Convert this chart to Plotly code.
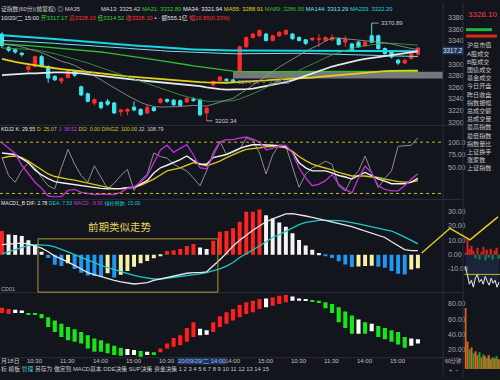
import plotly.graph_objects as go

W, H = 500, 380
FONT = "Liberation Sans, Noto Sans CJK SC, sans-serif"
BG = "#13151c"

idx = list(range(64))

# ---------------- main pane: 60-min candles ----------------
opens = [3352, 3329, 3325, 3319, 3291, 3296, 3313, 3296, 3279, 3271, 3277, 3288, 3261, 3249, 3233, 3234,
         3236, 3233, 3218, 3219, 3226, 3222, 3216, 3225, 3234, 3239, 3238, 3237, 3235, 3240, 3238, 3216,
         3264, 3272, 3274, 3273, 3287, 3330, 3346, 3349, 3352, 3341, 3349, 3352, 3352, 3346, 3342, 3342,
         3343, 3341, 3342, 3344, 3338, 3335, 3338, 3332, 3349, 3349, 3327, 3321, 3307, 3302, 3310, 3317.17]
highs = [3355, 3331, 3327, 3321, 3300, 3315, 3316, 3298, 3281, 3277, 3290, 3290, 3263, 3251, 3241, 3236,
         3240, 3235, 3223, 3224, 3236, 3224, 3230, 3227, 3242, 3241, 3240, 3239, 3243, 3243, 3241, 3227,
         3272, 3280, 3276, 3275, 3332, 3348, 3354, 3360, 3354, 3351, 3357, 3360, 3354, 3348, 3343, 3346,
         3352, 3348, 3352, 3346, 3349, 3337, 3340, 3340, 3370.89, 3351, 3329, 3323, 3309, 3309, 3320, 3328.10]
lows = [3328, 3321, 3318, 3313, 3286, 3294, 3294, 3268, 3271, 3266, 3276, 3278, 3245, 3234, 3229, 3222,
        3228, 3214, 3211, 3212, 3219, 3211, 3214, 3218, 3232, 3233, 3228, 3227, 3233, 3235, 3210, 3202.34,
        3262, 3270, 3270, 3268, 3285, 3328, 3344, 3347, 3339, 3339, 3347, 3350, 3342, 3339, 3333, 3340,
        3330, 3339, 3340, 3332, 3330, 3322, 3328, 3330, 3336, 3325, 3316, 3310, 3299, 3300, 3308, 3314.52]
closes = [3332, 3324, 3321, 3316.5, 3296, 3313, 3296, 3276, 3273, 3275, 3288, 3281, 3247, 3236, 3239, 3225,
          3231, 3216, 3221, 3222, 3221, 3213, 3225, 3220, 3240, 3236, 3230, 3229, 3241, 3237.5, 3213, 3224,
          3270, 3278, 3272, 3270, 3330, 3346, 3352, 3358, 3341, 3349, 3355, 3358, 3344, 3341, 3336, 3345,
          3344, 3346, 3346, 3334, 3343, 3324, 3330, 3338, 3338, 3327, 3318, 3312.5, 3302, 3307, 3318, 3328.10]

ma13 = [3335, 3334, 3332, 3330, 3326, 3323, 3320, 3315, 3310, 3305, 3302, 3298, 3292, 3286, 3280, 3273,
        3266, 3259, 3252, 3246, 3240, 3234, 3230, 3227, 3226, 3226, 3226, 3227, 3228, 3229, 3228, 3228,
        3231, 3235, 3238, 3241, 3248, 3256, 3264, 3272, 3280, 3288, 3295, 3302, 3309, 3316, 3322, 3328,
        3333, 3340, 3345, 3345, 3344, 3343, 3342, 3341, 3340, 3339, 3337, 3335, 3332, 3329, 3327, 3325.42]
ma21 = [3328, 3327.5, 3327, 3326.5, 3326, 3325, 3323, 3321, 3318, 3315, 3312, 3309, 3306, 3302, 3298, 3294,
        3290, 3286, 3282, 3278, 3274, 3270, 3266, 3262, 3258, 3254, 3250, 3247, 3244, 3241, 3238, 3236,
        3236, 3236, 3236.5, 3237, 3240, 3244, 3249, 3254, 3260, 3265, 3271, 3277, 3283, 3289, 3295, 3300,
        3306, 3311, 3316, 3320, 3324, 3327, 3330, 3332, 3334, 3335, 3336, 3336, 3335.5, 3334.5, 3333.5, 3332.80]
ma34 = [3281, 3282, 3283, 3283.5, 3284, 3284, 3285, 3285.5, 3286, 3286, 3286, 3285, 3284, 3282, 3281, 3280,
        3278.5, 3277, 3275.5, 3274, 3273, 3272, 3271, 3270, 3268, 3267, 3266, 3265, 3264, 3263, 3262, 3260,
        3258, 3257, 3256, 3256, 3256, 3257, 3258, 3260, 3262, 3264, 3266, 3269, 3272, 3276, 3280, 3284.5,
        3289, 3292.5, 3296, 3299, 3302, 3304.5, 3307, 3309, 3311, 3312.5, 3314, 3315.5, 3317, 3318.5, 3320, 3321.94]
ma55 = [3309, 3306, 3304, 3302, 3300, 3298, 3296, 3294.5, 3293, 3291.5, 3290, 3289, 3288, 3286.5, 3285.5, 3284,
        3283, 3282, 3280.5, 3279, 3278, 3277, 3276, 3275, 3274, 3274, 3273, 3272, 3271, 3270, 3269, 3268.5,
        3268, 3268, 3268, 3268.5, 3269, 3269.5, 3270, 3271, 3272, 3273, 3273.5, 3274, 3275, 3275.5, 3276, 3277,
        3278, 3279, 3280, 3281.5, 3283, 3284, 3285, 3286, 3287, 3287.5, 3288, 3288.5, 3289, 3289, 3289, 3288.91]
ma89 = [3335, 3334.5, 3334, 3333, 3332, 3331, 3330, 3329, 3328.5, 3328, 3327, 3326, 3325, 3323.5, 3322, 3321,
        3319.5, 3318, 3316.5, 3315, 3313, 3311.5, 3310, 3308, 3306, 3304.5, 3302.5, 3300.5, 3299, 3297, 3295.5, 3294,
        3292, 3290.5, 3289, 3288, 3287.5, 3287, 3287, 3287, 3287, 3287.2, 3287.4, 3287.6, 3287.8, 3288, 3288, 3288,
        3287.9, 3287.8, 3287.7, 3287.6, 3287.5, 3287.4, 3287.3, 3287.2, 3287.1, 3287.1, 3287, 3287, 3287, 3287, 3286.95, 3286.95]
ma144 = [3341, 3340.5, 3340, 3339, 3338.5, 3338, 3337, 3336.5, 3336, 3335, 3334.5, 3334, 3333, 3332, 3331.5, 3330.5,
         3330, 3329, 3328, 3327.5, 3326.5, 3326, 3325, 3324, 3323.5, 3322.5, 3322, 3321, 3320.5, 3320, 3319.5, 3319,
         3318.5, 3318.3, 3318, 3318, 3318, 3318.2, 3318.4, 3318.6, 3318.8, 3319, 3319, 3319, 3319, 3318.8, 3318.6, 3318.4,
         3318.2, 3318, 3317.7, 3317.3, 3317, 3316.6, 3316.2, 3315.8, 3315.4, 3315, 3314.6, 3314.3, 3314, 3313.7, 3313.5, 3313.29]
ma233 = [3350, 3349, 3348.5, 3347.5, 3347, 3346, 3345, 3344.5, 3343.5, 3342.5, 3342, 3341, 3340, 3339, 3338, 3337.5,
         3336.5, 3335.5, 3334.5, 3333.5, 3332.5, 3331.5, 3331, 3330, 3329, 3328.5, 3327.5, 3327, 3326, 3325.5, 3325, 3324.5,
         3324, 3323.8, 3323.6, 3323.5, 3323.5, 3323.5, 3323.6, 3323.7, 3323.8, 3323.8, 3323.9, 3324, 3324, 3324, 3323.9, 3323.8,
         3323.7, 3323.6, 3323.5, 3323.3, 3323.1, 3323, 3322.9, 3322.8, 3322.7, 3322.6, 3322.5, 3322.4, 3322.3, 3322.3, 3322.2, 3322.2]

# 3320 is hidden behind the cross-hair price box in the reference
price_ticks = [3200, 3220, 3240, 3260, 3280, 3300, 3340, 3360, 3380]
band_low, band_high = 3275.5, 3287.0          # grey highlight band
band_start = 35
cross_price = "3317.2"
turnover = "555.1亿"
change_txt = "10.85(0.33%)"

# ---------------- KDJ pane ----------------
kdj_k = [79, 77, 76, 68, 60, 46, 36, 29, 23, 21, 19, 18, 16, 14, 11, 10, 9, 9, 10, 11, 12, 18, 25, 40, 50, 55,
         60, 66, 73, 64, 57, 57, 70, 73, 76, 82, 88, 92, 95, 95, 95, 94, 93, 91, 80, 60, 50, 44, 44, 44, 40, 35,
         32, 28, 35, 41, 35, 28, 24, 19, 19, 19, 22, 29.55]
kdj_d = [69, 72, 73, 70, 63, 55, 46, 38, 33, 30, 28, 26, 23, 20, 17, 14, 11, 9, 9, 10, 12, 16, 22, 28, 36, 44,
         47, 50, 55, 60, 57, 54, 58, 63, 70, 76, 81, 86, 87, 89, 91, 92, 91, 89, 82, 72, 64, 57, 53, 50, 46, 41,
         37, 34, 34, 34, 32, 31, 28, 25, 23, 22, 22, 25.07]
kdj_j = [99, 88, 78, 55, 38, 22, 10, -5, -7, -6, 6, 8, 2, 0, -2, -1, -2, -2, 2, 10, 13, 22, 35, 60, 85, 94,
         80, 88, 95, 75, 50, 48, 73, 100, 105, 105, 108, 110, 106, 100, 85, 88, 93, 94, 79, 50, 30, 15, 18, 25,
         37, 18, 8, 1, 30, 53, 40, 15, 8, 5, 5, 15, 28, 38.52]
kdj_j2 = [70, 35, 22, 45, 60, 50, 31, 15, 9, 50, 86, 57, 35, 22, 54, 30, 9, 20, 35, 47, 6, 25, 38, 79, 72, 69,
          57, 50, 44, 30, 15, 44, 80, 102, 76, 80, 86, 108, 104, 79, 38, 75, 95, 92, 50, 12, 38, 50, 55, 63, 57,
          15, 5, 30, 44, 73, 40, 11, 30, 44, 92, 93, 94, 108.79]
di2_level, dingz_level = 0.0, 100.0
kdj_ticks = [50, 75, 100]
kdj_ticktext = ["50.00", "75.00", "100.0"]

# ---------------- MACD pane ----------------
macd = [16.5, 14, 13.8, 13, 10, 7, 2, -2.3, -7, -8, -6, -10, -12.6, -14.5, -15, -15.5, -13, -16, -14, -11.5,
        -8.5, -6, -4.5, -2.5, -0.5, 2.5, 3, 4, 6, 7.5, 5, 4, 9.7, 16, 16.5, 18.4, 23, 30, 30, 31.5, 27.6, 25.3,
        22.5, 19.5, 15, 10.3, 6.4, 3.4, 1.1, -0.5, -2.3, -4.6, -6.9, -8.6, -8.2, -8.0, -7.8, -8.5, -9.2, -11.5,
        -13.3, -13.8, -10.3, -9.50]
dif = [7, 7.5, 8, 8, 7.5, 6, 4.5, 2, -1, -3, -5, -7.5, -10, -12.5, -14, -15.5, -17, -18, -19, -20, -20.5, -20,
       -19.5, -18, -17, -16, -15, -14, -13, -12.6, -12.6, -12, -8, -3.5, 1, 6, 10, 13.8, 17, 20, 23, 25, 27, 28.5,
       28.7, 28, 27, 26, 25, 24, 23, 22, 21, 19.5, 18, 16.5, 15.5, 14, 12, 9, 6, 3.5, 2.8, 2.78]
dea = [0.5, 2, 4, 5.5, 6.5, 7, 7, 6.5, 5.5, 4, 2, 0, -2, -4, -5.5, -7.5, -9, -10.5, -12, -13.5, -14.5, -15.5,
       -16.5, -17, -17, -16.5, -16, -15.5, -15, -14, -13.5, -12.5, -11.5, -10, -8, -5.5, -2, 0.5, 3, 6, 9, 12, 14,
       16.5, 19, 21, 22.5, 23.5, 24, 24, 24, 23.8, 23.2, 22.5, 21.5, 20.5, 19.5, 18.5, 17.5, 16.5, 14.5, 12.5, 10, 7.53]
green_count = 15.00
macd_ticks = [-10, 0, 10, 20, 30]
macd_ticktext = ["-10.00", "0.00", "10.00", "20.00", "30.00"]

# ---------------- CD01 pane (floating bars) ----------------
cd_top = [75, 73.4, 72.5, 71.3, 68.2, 68.2, 66.9, 62.6, 58.2, 53.9, 49.5, 46.5, 43, 38.7, 34.3, 32.1, 27.8, 24.7,
          22.1, 20.4, 19.1, 17.8, 16.9, 16.1, 21.3, 27.8, 35.2, 38.7, 48.2, 56, 47.4, 45.2, 56, 63.9, 69.1, 73.4,
          78.6, 82.1, 84.3, 86.5, 87.3, 88.6, 90.8, 91.7, 89.9, 87.3, 85.6, 84.3, 84.3, 82.1, 79.9, 75.6, 70, 64.7,
          59.5, 56, 53.9, 50.8, 48.2, 45.2, 43, 36.5, 34.3, 33.4]
cd_bottom = [68, 66.9, 68.2, 68.2, 65.6, 65.6, 61.3, 49.5, 43, 36.5, 32.1, 30, 27.8, 21.3, 16.9, 16.9, 14.8, 12.6,
             11.7, 12.6, 12.6, 10.4, 12.6, 12.6, 16.1, 21.3, 23.4, 25.6, 30, 36.5, 38.7, 39.5, 43, 49.5, 53.9, 58.2,
             62.6, 66.9, 69.1, 73.4, 75.6, 77.8, 79.9, 82.1, 84.3, 84.3, 84.3, 83, 81.2, 74.3, 68.2, 56, 48.2, 40.8,
             40.8, 40.8, 43.9, 36.5, 33.4, 30, 26.5, 22.1, 24.7, 27.8]
cd_state = [1, 1, 0, 0, -1, -1, -1, -1, -1, -1, -1, -1, -1, -1, -1, -1, -1, -1, -1, 0, 0, -1, 0, -1, 1, 1, 1, 1,
            1, 1, 0, 0, 1, 1, 1, 1, 1, 1, 1, 1, 0, 1, 1, 1, 0, 0, 0, -1, -1, -1, -1, -1, -1, -1, 0, -1, 0, -1, -1,
            -1, -1, -1, 0, 0]
cd_ticks = [20, 40, 60, 80]
cd_ticktext = ["20.00", "40.00", "60.00", "80.00"]

# ---------------- right-side mini charts (intraday) ----------------
mini_idx = list(range(18))
mini_flow = [2, 16, 6, 9, 4, -4, 7, -5, 3, 8, -6, 5, -3, 6, -5, 4, 7, -4]
mini_line = [-12, -22, -30, -26, -33, -24, -20, -28, -25, -30, -22, -27, -31, -24, -29, -26, -33, -28]
mini_ref = -20
mini_vol = [62, 28, 20, 22, 16, 18, 14, 17, 12, 15, 13, 11, 14, 10, 12, 11, 13, 10]
mini_vol_up = [1, 1, 0, 1, 0, 1, 1, 0, 1, 0, 1, 0, 1, 1, 0, 1, 0, 1]

# ---------------- time axis / texts ----------------
time_tick_idx = [4, 9, 14, 19, 24, 34, 39, 44, 49, 54, 59]
time_tick_text = ["10:30", "11:30", "14:00", "15:00", "10:30", "14:00", "15:00", "10:30", "11:30", "14:00", "15:00"]
cross_idx = 26.5
cross_time = "20/09/29/二 14:00"
first_date = "月18日"
period_label = "60分钟"
panel_labels = ["沪总市值", "A股成交", "B股成交", "国债成交", "基金成交", "今日开盘", "昨日收盘", "指数振幅",
                "总成交额", "总成交量", "最高指数", "最低指数", "指数量比", "上证换手", "涨家数", "上证指数"]
toolbar = ["标", "模板", "管理", "另存为", "做定到", "MACD基本", "DDE决策", "SUP决策", "资金决策"]
pages = [str(i) for i in range(1, 16)]
note_text = "前期类似走势"

# ================= build figure =================
XR = [-0.3, 66.8]
XDOM = [0, 443 / W]


def ydom(top_px, bot_px):
    return [1 - bot_px / H, 1 - top_px / H]


fig = go.Figure()

red, cyan = "#ff2b2b", "#3ee8f2"
fig.add_trace(go.Candlestick(x=idx, open=opens, high=highs, low=lows, close=closes,
                             increasing=dict(line=dict(color=red, width=1), fillcolor=red),
                             decreasing=dict(line=dict(color=cyan, width=1), fillcolor=cyan),
                             whiskerwidth=0, xaxis="x", yaxis="y", showlegend=False, hoverinfo="skip"))
for ser, col, wd in [(ma233, "#19d6e6", 2.0), (ma144, "#6fe3f0", 1.0), (ma89, "#2fbf2f", 1.3),
                     (ma55, "#e0d21a", 1.8), (ma34, "#e8e8e8", 1.8), (ma21, "#3aa83a", 0.8),
                     (ma13, "#9a9a9a", 0.8)]:
    fig.add_trace(go.Scatter(x=idx, y=ser, mode="lines", line=dict(color=col, width=wd),
                             xaxis="x", yaxis="y", showlegend=False, hoverinfo="skip"))

# KDJ
for ser, col, wd in [(kdj_j2, "#8f8f8f", 1.0), (kdj_d, "#d8c41c", 1.4), (kdj_k, "#f2f2f2", 1.4),
                     (kdj_j, "#b82ed0", 1.4)]:
    fig.add_trace(go.Scatter(x=idx, y=ser, mode="lines", line=dict(color=col, width=wd),
                             xaxis="x2", yaxis="y2", showlegend=False, hoverinfo="skip"))

# MACD bars coloured by direction
macd_cols = []
for i, v in enumerate(macd):
    prev = macd[i - 1] if i > 0 else None
    if v >= 0:
        macd_cols.append("#ff2424" if (prev is None or v >= prev) else "#f4f4f4")
    else:
        macd_cols.append("#2196f3" if (prev is None or v <= prev) else "#f6f0a8")
fig.add_trace(go.Bar(x=idx, y=macd, marker=dict(color=macd_cols, line=dict(width=0)), width=0.6,
                     xaxis="x3", yaxis="y3", showlegend=False, hoverinfo="skip"))
fig.add_trace(go.Scatter(x=idx, y=dea, mode="lines", line=dict(color="#1cc8c8", width=1.3),
                         xaxis="x3", yaxis="y3", showlegend=False, hoverinfo="skip"))
fig.add_trace(go.Scatter(x=idx, y=dif, mode="lines", line=dict(color="#e6e6e6", width=1.3),
                         xaxis="x3", yaxis="y3", showlegend=False, hoverinfo="skip"))

# CD01 floating bars
state_col = {1: "#ff1e1e", 0: "#ffffff", -1: "#19e619"}
fig.add_trace(go.Bar(x=idx, y=[t - b for t, b in zip(cd_top, cd_bottom)], base=cd_bottom,
                     marker=dict(color=[state_col[s] for s in cd_state], line=dict(width=0)), width=0.62,
                     xaxis="x4", yaxis="y4", showlegend=False, hoverinfo="skip"))

# right mini charts
fig.add_trace(go.Scatter(x=mini_idx, y=mini_line, mode="lines", line=dict(color="#f0f0f0", width=1),
                         fill="tozeroy", fillcolor="rgba(40,70,120,0.35)",
                         xaxis="x5", yaxis="y5", showlegend=False, hoverinfo="skip"))
fig.add_trace(go.Bar(x=mini_idx, y=mini_flow, width=0.7,
                     marker=dict(color=["#e02020" if v > 0 else "#1c9a3a" for v in mini_flow], line=dict(width=0)),
                     xaxis="x5", yaxis="y5", showlegend=False, hoverinfo="skip"))
fig.add_trace(go.Bar(x=mini_idx, y=mini_vol, width=0.75,
                     marker=dict(color=["#d8641e" if u else "#2a9a3a" for u in mini_vol_up], line=dict(width=0)),
                     xaxis="x6", yaxis="y6", showlegend=False, hoverinfo="skip"))

axcommon = dict(range=XR, domain=XDOM, showgrid=False, zeroline=False, showticklabels=False,
                showline=False, ticks="")
ytick = dict(showgrid=False, zeroline=False, side="right", ticks="", showline=False,
             tickfont=dict(size=7, color="#a3a7ae", family=FONT), ticklabelstandoff=4)
hidden = dict(showgrid=False, zeroline=False, showticklabels=False, showline=False, ticks="")

fig.update_layout(
    width=W, height=H, margin=dict(l=0, r=0, t=0, b=0),
    paper_bgcolor=BG, plot_bgcolor=BG, bargap=0.3,
    xaxis=dict(**axcommon, anchor="y", rangeslider=dict(visible=False)),
    xaxis2=dict(**axcommon, anchor="y2", matches="x"),
    xaxis3=dict(**axcommon, anchor="y3", matches="x"),
    xaxis4=dict(**axcommon, anchor="y4", matches="x"),
    yaxis=dict(**ytick, domain=ydom(14, 122), range=[3197.9, 3381.7], anchor="x", tickvals=price_ticks),
    yaxis2=dict(**ytick, domain=ydom(130, 197), range=[-7.7, 121.2], anchor="x2",
                tickvals=kdj_ticks, ticktext=kdj_ticktext),
    yaxis3=dict(**ytick, domain=ydom(208, 292), range=[-25.5, 32.4], anchor="x3",
                tickvals=macd_ticks, ticktext=macd_ticktext),
    yaxis4=dict(**ytick, domain=ydom(295, 359), range=[9.6, 93.0], anchor="x4",
                tickvals=cd_ticks, ticktext=cd_ticktext),
    xaxis5=dict(**hidden, domain=[464.5 / W, 1], range=[-0.5, 17.5], anchor="y5"),
    yaxis5=dict(**hidden, domain=ydom(232, 292), range=[-37, 23], anchor="x5"),
    xaxis6=dict(**hidden, domain=[464.5 / W, 1], range=[-0.5, 17.5], anchor="y6"),
    yaxis6=dict(**hidden, domain=ydom(303, 371), range=[0, 68], anchor="x6"),
)

shapes = []
shapes.append(dict(type="rect", xref="x", yref="y", x0=band_start, x1=XR[1], y0=band_low, y1=band_high,
                   fillcolor="#8a8a8a", opacity=0.85, line=dict(width=0), layer="below"))
for lvl in (di2_level, dingz_level):
    shapes.append(dict(type="line", xref="paper", yref="y2", x0=0, x1=XDOM[1], y0=lvl, y1=lvl,
                       line=dict(color="#c9b81a", width=1, dash="dot")))
for py in (124, 199, 293.5, 359.5):
    shapes.append(dict(type="line", xref="paper", yref="paper", x0=0, x1=463 / W, y0=1 - py / H, y1=1 - py / H,
                       line=dict(color="#2b2f3a", width=1)))
for px in (443, 463):
    shapes.append(dict(type="line", xref="paper", yref="paper", x0=px / W, x1=px / W, y0=0, y1=1,
                       line=dict(color="#2b2f3a", width=1)))
shapes.append(dict(type="line", xref="paper", yref="y5", x0=464.5 / W, x1=1, y0=mini_ref, y1=mini_ref,
                   line=dict(color="#c9b81a", width=1)))
shapes.append(dict(type="rect", xref="x3", yref="paper", x0=5.45, x1=32.7, y0=1 - 293 / H, y1=1 - 239 / H,
                   line=dict(color="#a79a36", width=1), fillcolor="rgba(0,0,0,0)"))
pts = [(421.7, 253.3), (450, 228.3), (470, 240), (498, 216.7)]
path = "M " + " L ".join(f"{x / W:.4f},{1 - y / H:.4f}" for x, y in pts)
shapes.append(dict(type="path", xref="paper", yref="paper", path=path, line=dict(color="#e6d21e", width=1.4)))
shapes.append(dict(type="rect", xref="paper", yref="paper", x0=466 / W, x1=492 / W, y0=1 - 28.5 / H,
                   y1=1 - 25.5 / H, fillcolor="#18b83a", line=dict(width=0)))
shapes.append(dict(type="rect", xref="paper", yref="paper", x0=466 / W, x1=497 / W, y0=1 - 35 / H,
                   y1=1 - 32 / H, fillcolor="#e0241c", line=dict(width=0)))
fig.update_layout(shapes=shapes)

ann = []


def ptxt(px, py, s, color, size=6.0, xanchor="left", **kw):
    ann.append(dict(x=px / W, y=1 - py / H, xref="paper", yref="paper", text=s, showarrow=False,
                    xanchor=xanchor, yanchor="middle", borderpad=0,
                    font=dict(color=color, size=size, family=FONT), **kw))


def spans(items, sep="  "):
    return sep.join(f"<span style='color:{c}'>{s}</span>" for s, c in items)


# header rows
ptxt(0, 6, spans([("证指数(60分)(前复权)", "#d0d0d0"), ("◎ MA35", "#c8c8c8")], " "), "#d0d0d0", size=5.8)
ma_hdr = [("MA13", ma13, "#d8d8d8"), ("MA21", ma21, "#35d035"), ("MA34", ma34, "#e8e8e8"),
          ("MA55", ma55, "#e0d21a"), ("MA89", ma89, "#2fbf2f"), ("MA144", ma144, "#6fe3f0"),
          ("MA233", ma233, "#19d6e6")]
ptxt(100, 6, spans([(f"{n}: {s[-1]:.2f}", c) for n, s, c in ma_hdr], " "), "#d8d8d8", size=5.8)
ptxt(0, 15, spans([("10/20/二 15:00", "#e0e0e0"), (f"开{opens[-1]:.2f}", "#2fd12f"),
                   (f"高{highs[-1]:.2f}", "#ff3030"), (f"低{lows[-1]:.2f}", "#2fd12f"),
                   (f"收{closes[-1]:.2f}", "#ff3030"), (f"▪ · 额{turnover}", "#e0e0e0"),
                   (f"幅{change_txt}", "#ff3030")], " "), "#e0e0e0", size=5.8)

# KDJ header
ptxt(0, 128, spans([(f"KDJ2 K: {kdj_k[-1]:.2f}", "#e8e8e8"), (f"D: {kdj_d[-1]:.2f}", "#d8c41c"),
                    (f"J: {kdj_j[-1]:.2f}", "#c03ad8"), (f"DI2: {di2_level:.2f}", "#d8c41c"),
                    (f"DINGZ: {dingz_level:.2f}", "#d8c41c"), (f"J2: {kdj_j2[-1]:.2f}", "#d0d0d0")], " "),
     "#e8e8e8", size=5.3)

# MACD header
ptxt(0, 203, spans([(f"MACD1_B DIF: {dif[-1]:.2f}", "#e8e8e8"), (f"DEA: {dea[-1]:.2f}", "#1cc8c8"),
                    (f"MACD: {macd[-1]:.2f}", "#c03ad8"), (f"绿柱预数: {green_count:.2f}", "#1cc8c8")], " "),
     "#e8e8e8", size=5.1)
ptxt(0, 290, "CD01", "#b0b0b0", size=5.5)

# note
ptxt(119.5, 227, note_text, "#e6d45a", size=10.5, xanchor="center")

# price markers
ann.append(dict(x=56, y=3370.89, xref="x", yref="y", text="3370.89", showarrow=True, arrowhead=0,
                arrowwidth=0.8, arrowcolor="#bbbbbb", ax=7, ay=0, xanchor="left",
                font=dict(size=6, color="#c8c8c8", family=FONT)))
ann.append(dict(x=31, y=3202.34, xref="x", yref="y", text="3202.34", showarrow=True, arrowhead=0,
                arrowwidth=0.8, arrowcolor="#bbbbbb", ax=6, ay=0, xanchor="left",
                font=dict(size=6, color="#c8c8c8", family=FONT)))
ann.append(dict(x=35.5, y=3269.5, xref="x", yref="y", text="3274.34  ~  3286.18", showarrow=False,
                xanchor="left", font=dict(size=5.8, color="#9a9a9a", family=FONT)))
ptxt(453, 48, cross_price, "#d8e2ff", size=6.3, xanchor="center", bgcolor="#23365c")

# time axis labels
ptxt(0, 363, first_date, "#c0c0c0", size=6)
for i, t in zip(time_tick_idx, time_tick_text):
    ann.append(dict(x=i - 0.4, y=1 - 363 / H, xref="x4", yref="paper", text=t, showarrow=False,
                    xanchor="left", yanchor="middle", borderpad=0,
                    font=dict(size=6, color="#c0c0c0", family=FONT)))
ann.append(dict(x=cross_idx, y=1 - 363 / H, xref="x4", yref="paper", text=cross_time, showarrow=False,
                xanchor="left", yanchor="middle", bgcolor="#23365c", borderpad=0,
                font=dict(size=6, color="#8fb6ff", family=FONT)))
ptxt(453, 363, period_label, "#c0c0c0", size=5.2, xanchor="center")
ptxt(453, 372, "+  −", "#c0c0c0", size=5.5, xanchor="center")

# toolbar
tb_items = [(s, "#3fc4c4" if s == "管理" else "#c8c8c8") for s in toolbar] + [(p, "#c8c8c8") for p in pages]
ptxt(0, 371, spans(tb_items, " "), "#c8c8c8", size=5.8)

# right info panel
ptxt(467, 12, f"{closes[-1]:.2f}", "#ff3a3a", size=8)
for k, lab in enumerate(panel_labels):
    ptxt(466, 43 + k * 8.3, lab, "#c8c8c8", size=6.1)

fig.update_layout(annotations=ann)
fig.write_html("out.html")
